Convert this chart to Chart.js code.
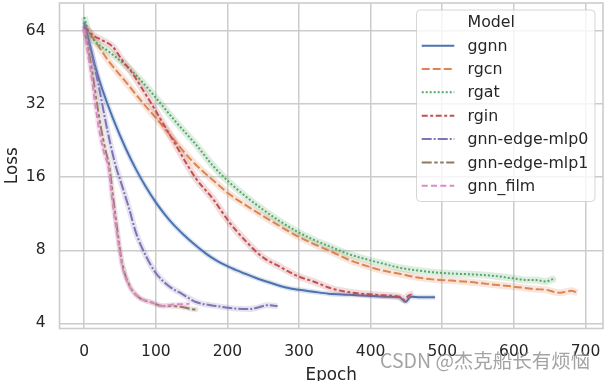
<!DOCTYPE html>
<html>
<head>
<meta charset="utf-8">
<script src="https://cdn.jsdelivr.net/npm/chart.js@4.4.1/dist/chart.umd.min.js"></script>
<style>
  html, body { margin: 0; padding: 0; background: #fff; }
  #wrap { width: 606px; height: 381px; position: relative; }
</style>
</head>
<body>
<div id="wrap"><canvas id="lossChart"></canvas></div>
<script>
// Loss per epoch, one pair of arrays per model
const MODELS = ['ggnn', 'rgcn', 'rgat', 'rgin', 'gnn-edge-mlp0', 'gnn-edge-mlp1', 'gnn_film'];
const X_TICKS = [0, 100, 200, 300, 400, 500, 600, 700];
const Y_TICKS = [4, 8, 16, 32, 64];

const ggnnEpoch = [0, 5, 16, 25, 40, 58, 72, 86, 100, 113, 126, 140, 153, 170, 185, 206, 225, 240, 260, 282, 300, 320, 341, 370, 395, 420, 440, 449, 456, 470, 490];
const ggnnLoss  = [69.5, 61, 45, 37, 28, 21, 17.3, 14.6, 12.6, 11.2, 10.1, 9.2, 8.5, 7.75, 7.25, 6.75, 6.4, 6.15, 5.88, 5.62, 5.5, 5.4, 5.3, 5.25, 5.2, 5.15, 5.12, 4.9, 5.15, 5.12, 5.12];

const rgcnEpoch = [0, 16, 35, 58, 81, 105, 128, 151, 175, 203, 225, 249, 272, 296, 320, 347, 370, 394, 417, 440, 463, 486, 512, 538, 566, 599, 631, 645, 655, 665, 673, 680, 689];
const rgcnLoss  = [67.6, 57.7, 47.7, 39.5, 32.6, 27, 22.3, 18.6, 16, 13.6, 12.3, 11.1, 10.1, 9.2, 8.5, 7.85, 7.3, 6.9, 6.6, 6.4, 6.2, 6.07, 6.0, 5.92, 5.8, 5.67, 5.53, 5.5, 5.4, 5.35, 5.4, 5.45, 5.35];

const rgatEpoch = [0, 4, 12, 35, 58, 81, 105, 128, 156, 180, 203, 226, 249, 272, 296, 320, 347, 370, 394, 417, 440, 463, 486, 512, 538, 566, 599, 617, 631, 645, 652, 658];
const rgatLoss  = [73, 66, 59.5, 52.4, 46.2, 39.5, 32.6, 27, 21.8, 17.8, 15.2, 13.3, 11.8, 10.6, 9.6, 8.85, 8.2, 7.7, 7.34, 7.05, 6.78, 6.62, 6.5, 6.42, 6.37, 6.3, 6.13, 6.04, 6.03, 5.95, 6.05, 6.12];

const rginEpoch = [0, 12, 25, 40, 53, 67, 81, 95, 109, 123, 140, 156, 180, 203, 226, 249, 273, 296, 320, 347, 375, 394, 417, 440, 447, 453, 460];
const rginLoss  = [66.5, 61.5, 58.6, 55, 48.5, 43, 37, 31.7, 27, 23, 18.8, 15.8, 13, 10.4, 8.7, 7.5, 6.85, 6.3, 5.95, 5.55, 5.35, 5.28, 5.22, 5.15, 5.0, 5.2, 5.3];

const mlp0Epoch = [0, 6, 12, 21, 30, 37, 44, 53, 63, 72, 86, 100, 118, 137, 156, 184, 212, 230, 240, 256, 270];
const mlp0Loss  = [67.6, 58, 49.3, 37, 27, 21.6, 17.8, 14.7, 11.8, 9.5, 7.6, 6.45, 5.7, 5.28, 4.9, 4.72, 4.6, 4.58, 4.63, 4.75, 4.72];

const mlp1Epoch = [0, 6, 12, 18, 24, 30, 35, 40, 46, 53, 63, 77, 95, 109, 118, 128, 140, 150, 159];
const mlp1Loss  = [65, 53, 42, 32, 25, 20.5, 17.8, 13.5, 9.8, 7.1, 5.75, 5.1, 4.87, 4.72, 4.72, 4.7, 4.65, 4.58, 4.55];

const filmEpoch = [0, 5, 10, 16, 22, 28, 34, 39, 46, 53, 63, 77, 95, 109, 118, 128, 138, 147];
const filmLoss  = [65, 52, 42, 31, 24, 20, 17.5, 13, 9.3, 6.9, 5.7, 5.1, 4.87, 4.72, 4.75, 4.8, 4.8, 4.82];

const SERIES = [
  [ggnnEpoch, ggnnLoss], [rgcnEpoch, rgcnLoss], [rgatEpoch, rgatLoss], [rginEpoch, rginLoss],
  [mlp0Epoch, mlp0Loss], [mlp1Epoch, mlp1Loss], [filmEpoch, filmLoss],
];

// seaborn "deep" palette + default dash styles
const COLORS = ['#4C72B0', '#DD8452', '#55A868', '#C44E52', '#8172B3', '#937860', '#DA8BC3'];
const DASHES = [[], [8, 3], [2, 2], [6, 2.5, 3, 2.5], [10, 2, 2, 2], [10, 2.5, 3.5, 2.5, 3.5, 2.5], [6, 3.3]];
const BAND_W = [5, 7, 7, 7, 6, 5, 5];

const FONT = 'DejaVu Sans';
const INK = '#262626';
const GRID = '#cccccc';

function rgba(hex, a) {
  const n = parseInt(hex.slice(1), 16);
  return `rgba(${n >> 16},${(n >> 8) & 255},${n & 255},${a})`;
}

const datasets = [];
SERIES.forEach(([ep, loss], i) => {
  const pts = ep.map((e, k) => ({ x: e, y: loss[k] }));
  // light band behind each line (confidence interval look)
  datasets.push({
    data: pts, isBand: true,
    borderColor: rgba(COLORS[i], 0.2), borderWidth: BAND_W[i],
    pointRadius: 0, cubicInterpolationMode: 'monotone',
    borderJoinStyle: 'round', order: 1000 - 2 * i,
  });
  datasets.push({
    label: MODELS[i], data: pts,
    borderColor: COLORS[i], borderWidth: 2, borderDash: DASHES[i],
    pointRadius: 0, cubicInterpolationMode: 'monotone',
    order: 999 - 2 * i,
  });
});

// axes frame (spines) — all four sides, light grey
const framePlugin = {
  id: 'frame',
  afterDatasetsDraw(chart) {
    const { ctx, chartArea: a } = chart;
    ctx.save();
    ctx.strokeStyle = GRID;
    ctx.lineWidth = 1.6;
    ctx.strokeRect(a.left, a.top, a.right - a.left, a.bottom - a.top);
    ctx.restore();
  },
};

// matplotlib-like legend box, "Model" as first row with no handle
const legendPlugin = {
  id: 'mplLegend',
  afterDraw(chart) {
    const ctx = chart.ctx;
    const bx = 416.5, by = 10, bw = 178.5, bh = 191.5, r = 4;
    ctx.save();
    ctx.beginPath();
    ctx.roundRect(bx, by, bw, bh, r);
    ctx.fillStyle = 'rgba(255,255,255,0.8)';
    ctx.fill();
    ctx.strokeStyle = 'rgba(204,204,204,0.8)';
    ctx.lineWidth = 1;
    ctx.stroke();

    ctx.font = `15.8px "${FONT}"`;
    ctx.textBaseline = 'middle';
    const rows = ['Model', ...MODELS];
    rows.forEach((txt, k) => {
      const y = 22.3 + k * 23.35;
      ctx.fillStyle = INK;
      ctx.fillText(txt, 467.5, y + 1);
      if (k === 0) return;
      const i = k - 1;
      ctx.beginPath();
      ctx.setLineDash(DASHES[i]);
      ctx.strokeStyle = COLORS[i];
      ctx.lineWidth = 2;
      ctx.moveTo(421.7, y);
      ctx.lineTo(454.3, y);
      ctx.stroke();
      ctx.setLineDash([]);
    });

    // watermark
    ctx.font = '19.5px "Noto Sans CJK SC", "Noto Sans", sans-serif';
    ctx.fillStyle = 'rgba(140,140,140,0.8)';
    ctx.textBaseline = 'alphabetic';
    ctx.fillText('CSDN @杰克船长有烦恼', 380, 367.5);
    ctx.restore();
  },
};

new Chart(document.getElementById('lossChart'), {
  type: 'line',
  data: { datasets },
  options: {
    responsive: true, maintainAspectRatio: false,
    animation: false, devicePixelRatio: 1,
    layout: { padding: { top: 3, right: 3, left: 0, bottom: 0 } },
    plugins: { legend: { display: false }, tooltip: { enabled: false } },
    scales: {
      x: {
        type: 'linear', min: -34.5, max: 724.5,
        afterBuildTicks: s => { s.ticks = X_TICKS.map(v => ({ value: v })); },
        afterFit: s => { s.height = 52.5; s.paddingLeft = 0; s.paddingRight = 0; },
        ticks: { font: { family: FONT, size: 15.5 }, color: INK, padding: 14, maxRotation: 0, autoSkip: false },
        grid: { color: GRID, lineWidth: 1.5, drawTicks: false },
        border: { display: false },
        title: {
          display: true, text: 'Epoch', color: INK,
          font: { family: FONT, size: 16.8, lineHeight: 0.655 }, padding: { top: 0, bottom: 0 },
        },
      },
      y: {
        type: 'logarithmic', min: 3.81, max: 83.4,
        afterBuildTicks: s => { s.ticks = Y_TICKS.map(v => ({ value: v })); },
        afterFit: s => { s.width = 59.5; s.paddingTop = 0; s.paddingBottom = 0; },
        ticks: { font: { family: FONT, size: 15.5 }, color: INK, padding: 14, callback: v => String(v) },
        grid: { color: GRID, lineWidth: 1.5, drawTicks: false },
        border: { display: false },
        title: {
          display: true, text: 'Loss', color: INK,
          font: { family: FONT, size: 16.8, lineHeight: 0.655 }, padding: { top: 6.9, bottom: 0 },
        },
      },
    },
  },
  plugins: [framePlugin, legendPlugin],
});
</script>
</body>
</html>
